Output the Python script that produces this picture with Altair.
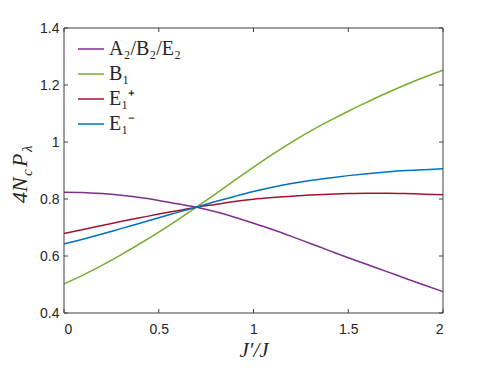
import altair as alt
import pandas as pd

# ---- data ----
J = [0.0, 0.1, 0.2, 0.3, 0.4, 0.5, 0.6, 0.7, 0.8, 0.9, 1.0,
     1.1, 1.2, 1.3, 1.4, 1.5, 1.6, 1.7, 1.8, 1.9, 2.0]
a2b2e2 = [0.824, 0.823, 0.819, 0.813, 0.805, 0.795, 0.783, 0.771, 0.755, 0.736, 0.715,
          0.693, 0.669, 0.644, 0.619, 0.594, 0.570, 0.546, 0.522, 0.498, 0.475]
b1 = [0.502, 0.533, 0.567, 0.604, 0.643, 0.684, 0.727, 0.772, 0.818, 0.865, 0.912,
      0.957, 0.999, 1.038, 1.074, 1.108, 1.140, 1.171, 1.200, 1.227, 1.252]
e1_plus = [0.679, 0.693, 0.707, 0.721, 0.734, 0.747, 0.759, 0.771, 0.781, 0.791, 0.799,
           0.805, 0.810, 0.814, 0.817, 0.819, 0.820, 0.820, 0.819, 0.817, 0.815]
e1_minus = [0.642, 0.659, 0.677, 0.696, 0.715, 0.734, 0.753, 0.772, 0.791, 0.809, 0.826,
            0.841, 0.854, 0.865, 0.874, 0.882, 0.889, 0.895, 0.900, 0.903, 0.906]

series_names = ["A₂/B₂/E₂", "B₁", "E₁⁺", "E₁⁻"]
series_colors = ["#7E2F8E", "#77AC30", "#A2142F", "#0072BD"]
x_ticks = [0, 0.5, 1, 1.5, 2]
y_ticks = [0.4, 0.6, 0.8, 1.0, 1.2, 1.4]

rows = []
for name, vals in zip(series_names, [a2b2e2, b1, e1_plus, e1_minus]):
    for j, v in zip(J, vals):
        rows.append({"J": j, "P": v, "series": name})
df = pd.DataFrame(rows)
xt_df = pd.DataFrame({"J": x_ticks})
yt_df = pd.DataFrame({"P": y_ticks})

W, H, TK = 379, 285, 4
AX = "#404040"
TXT = "#262626"
xscale = alt.Scale(domain=[0, 2], nice=False, zero=False)
yscale = alt.Scale(domain=[0.4, 1.4], nice=False, zero=False)

x_axis = alt.Axis(orient="bottom", values=x_ticks, format="~g", ticks=False, tickSize=0,
                  domain=False, grid=False, labelPadding=9, labelFontSize=14,
                  labelFont="Liberation Sans", labelColor=TXT,
                  title="J′/J", titleFont="Liberation Serif", titleFontStyle="italic",
                  titleFontWeight="normal", titleFontSize=21, titleColor=TXT,
                  titlePadding=3)
y_axis = alt.Axis(orient="left", values=y_ticks, format="~g", ticks=False, tickSize=0,
                  domain=False, grid=False, labelPadding=5, labelFontSize=14,
                  labelFont="Liberation Sans", labelColor=TXT, title=None)

lines = alt.Chart(df).mark_line(strokeWidth=1.5, interpolate="monotone").encode(
    x=alt.X("J:Q", scale=xscale, axis=x_axis),
    y=alt.Y("P:Q", scale=yscale, axis=y_axis),
    color=alt.Color("series:N", sort=series_names,
                    scale=alt.Scale(domain=series_names, range=series_colors),
                    legend=alt.Legend(title=None, orient="none", legendX=13, legendY=7,
                                      symbolType="stroke", symbolSize=676, symbolStrokeWidth=1.5,
                                      labelFont="Liberation Serif", labelFontSize=20,
                                      labelColor=TXT, labelOffset=4, rowPadding=1,
                                      padding=0, labelLimit=300)),
    order=alt.Order("J:Q"),
)

rule_style = dict(color=AX, strokeWidth=1)

# frame box (four edges)
f_top = alt.Chart().mark_rule(**rule_style).encode(
    x=alt.value(0), x2=alt.value(W), y=alt.value(0))
f_bot = alt.Chart().mark_rule(**rule_style).encode(
    x=alt.value(0), x2=alt.value(W), y=alt.value(H))
f_left = alt.Chart().mark_rule(**rule_style).encode(
    y=alt.value(0), y2=alt.value(H), x=alt.value(0))
f_right = alt.Chart().mark_rule(**rule_style).encode(
    y=alt.value(0), y2=alt.value(H), x=alt.value(W))

# inward ticks on all four sides (positions from the tick lists via the scales)
tb = alt.Chart(xt_df).mark_rule(**rule_style).encode(
    x=alt.X("J:Q", scale=xscale, axis=x_axis), y=alt.value(H - TK), y2=alt.value(H))
tt = alt.Chart(xt_df).mark_rule(**rule_style).encode(
    x=alt.X("J:Q", scale=xscale, axis=x_axis), y=alt.value(0), y2=alt.value(TK))
tl = alt.Chart(yt_df).mark_rule(**rule_style).encode(
    y=alt.Y("P:Q", scale=yscale, axis=y_axis), x=alt.value(0), x2=alt.value(TK))
tr = alt.Chart(yt_df).mark_rule(**rule_style).encode(
    y=alt.Y("P:Q", scale=yscale, axis=y_axis), x=alt.value(W - TK), x2=alt.value(W))

# y axis title 4N_c P_lambda built from pieces (rotated)
tstyle = dict(angle=270, align="left", baseline="alphabetic", font="Liberation Serif",
              fontStyle="italic", color=TXT)
y0 = 175
xb = -37
t1 = alt.Chart().mark_text(text="4N", fontSize=22, **tstyle).encode(
    x=alt.value(xb), y=alt.value(y0))
t2 = alt.Chart().mark_text(text="c", fontSize=15, **tstyle).encode(
    x=alt.value(xb + 5), y=alt.value(y0 - 27))
t3 = alt.Chart().mark_text(text="P", fontSize=22, **tstyle).encode(
    x=alt.value(xb), y=alt.value(y0 - 36))
t4 = alt.Chart().mark_text(text="λ", fontSize=15, **tstyle).encode(
    x=alt.value(xb + 5), y=alt.value(y0 - 51))

chart = alt.layer(lines, tb, tt, tl, tr, f_top, f_bot, f_left, f_right,
                  t1, t2, t3, t4).properties(
    width=W, height=H,
    autosize=alt.AutoSizeParams(type="none"),
    padding={"left": 56, "top": 20, "right": 40, "bottom": 47},
    background="white",
).configure_view(stroke=None)

chart.save("out.html", embed_options={"renderer": "svg", "actions": False})
